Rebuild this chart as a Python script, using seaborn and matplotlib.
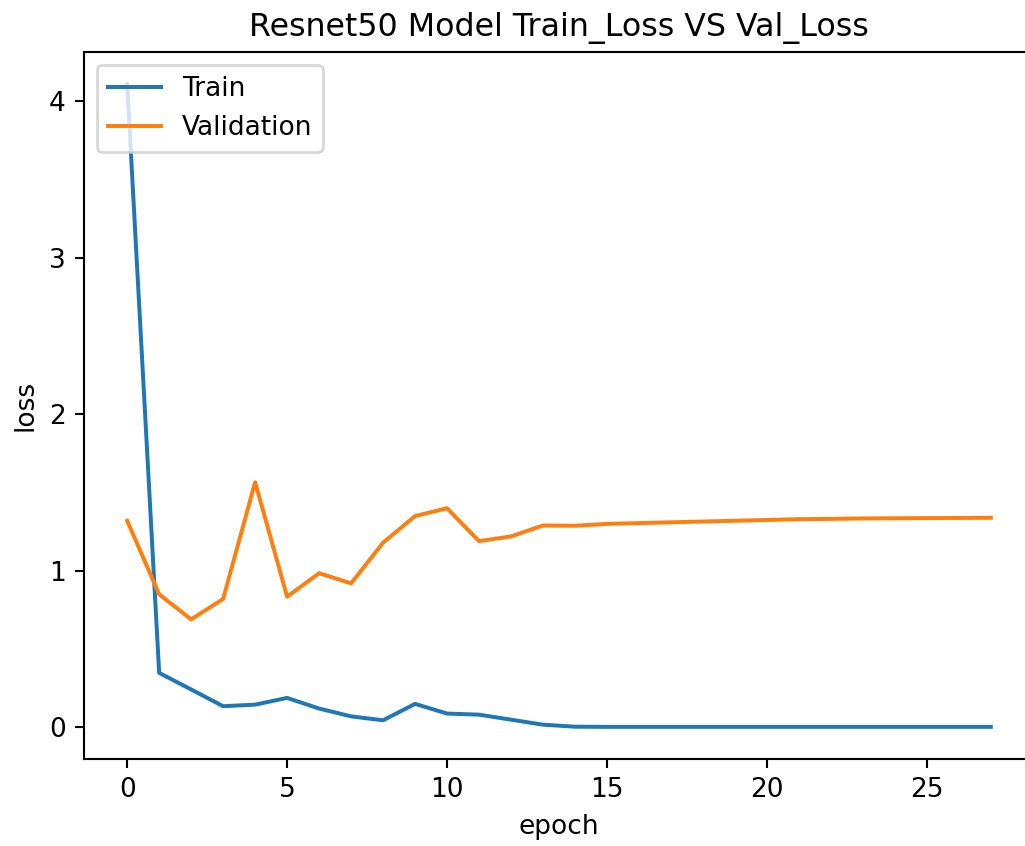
import numpy as np
import pandas as pd
import seaborn as sns
import matplotlib
matplotlib.use("Agg")
import matplotlib.pyplot as plt

epochs = list(range(28))
train_loss = [4.11, 0.348, 0.242, 0.135, 0.145, 0.188, 0.12, 0.07, 0.045, 0.15,
              0.088, 0.081, 0.049, 0.017, 0.004, 0.003, 0.003, 0.003, 0.003, 0.003,
              0.003, 0.003, 0.003, 0.003, 0.003, 0.003, 0.003, 0.003]
val_loss = [1.32, 0.85, 0.69, 0.82, 1.566, 0.835, 0.985, 0.92, 1.18, 1.35,
            1.40, 1.19, 1.22, 1.29, 1.288, 1.30, 1.305, 1.31, 1.315, 1.32,
            1.325, 1.33, 1.332, 1.335, 1.336, 1.337, 1.338, 1.339]
series_names = ["Train", "Validation"]

df = pd.DataFrame({
    "epoch": epochs * 2,
    "loss": train_loss + val_loss,
    "series": [series_names[0]] * len(epochs) + [series_names[1]] * len(epochs),
})

DPI = 190
fig = plt.figure(figsize=(1025 / DPI, 846 / DPI), dpi=DPI)
ax = fig.add_axes([84 / 1025, 1 - 759 / 846, (1034 - 84) / 1025, (759 - 52) / 846])
sns.lineplot(data=df, x="epoch", y="loss", hue="series", ax=ax,
             palette=["#1f77b4", "#ff7f0e"], linewidth=1.5)
ax.set_title("Resnet50 Model Train_Loss VS Val_Loss")
ax.set_xlabel("epoch")
ax.set_ylabel("loss")
ax.set_xticks([0, 5, 10, 15, 20, 25])
ax.set_yticks([0, 1, 2, 3, 4])
ax.spines["right"].set_visible(False)
ax.legend(loc="upper left", title=None)
fig.savefig("out.png", dpi=DPI)
